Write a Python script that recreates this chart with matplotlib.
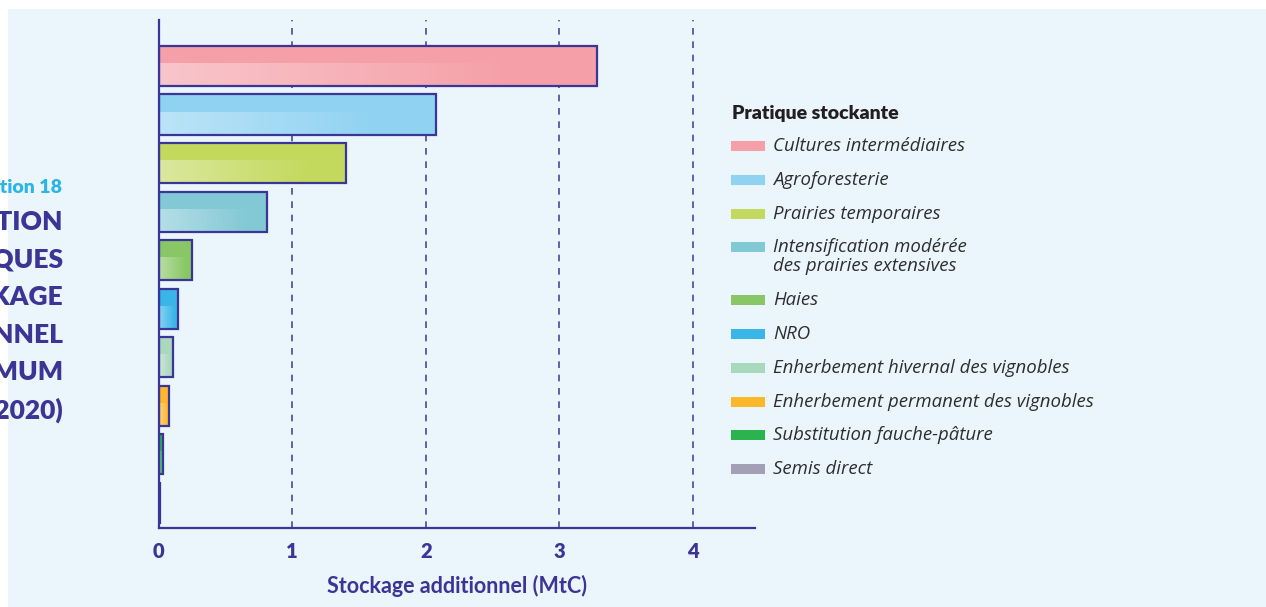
import matplotlib.pyplot as plt
import numpy as np
from matplotlib.colors import to_rgb
from matplotlib.patches import Rectangle

# Stockage additionnel par pratique (MtC)
pratiques = [
    "Cultures intermédiaires",
    "Agroforesterie",
    "Prairies temporaires",
    "Intensification modérée\ndes prairies extensives",
    "Haies",
    "NRO",
    "Enherbement hivernal des vignobles",
    "Enherbement permanent des vignobles",
    "Substitution fauche-pâture",
    "Semis direct",
]
stockage = [3.28, 2.08, 1.40, 0.81, 0.25, 0.145, 0.11, 0.075, 0.036, 0.012]
couleurs = ["#f5a0a8", "#8fd2f2", "#c3d95d", "#83c9d5", "#89c766",
            "#39b5e8", "#a9d8bd", "#fdb72b", "#2bb34d", "#a39fb5"]
xticks = [0, 1, 2, 3, 4]
titre = ["CONTRIBUTION", "DES PRATIQUES", "AU STOCKAGE", "ADDITIONNEL",
         "MAXIMUM", "(2020)"]

W, H = 1266, 607
BLEU = "#3b3595"
FOND = "#eaf5fc"
LEG_FONT = ['Open Sans', 'DejaVu Sans']

plt.rcParams['font.family'] = ['Lato', 'DejaVu Sans']

fig = plt.figure(figsize=(W / 100, H / 100), dpi=100)
fig.patch.set_facecolor("white")
# panneau de fond bleu clair
fig.add_artist(Rectangle((8 / W, 0), 1, 1 - 9 / H, transform=fig.transFigure,
                         facecolor=FOND, edgecolor="none", zorder=0))


def px(x, y):
    return x / W, 1 - y / H


ax = fig.add_axes([158.5 / W, 1 - 528 / H, (755 - 158.5) / W, (528 - 20) / H])
ax.set_facecolor("none")

pos = np.arange(len(stockage))
h = 0.83
bars = ax.barh(pos, stockage, height=h, color=couleurs, zorder=2)

# partie basse de chaque barre : dégradé clair -> couleur pleine
t = np.linspace(0, 1, 256)
mix = 0.6 + 0.4 * np.clip(t / 0.8, 0, 1)
for b, c, v, y in zip(bars, couleurs, stockage, pos):
    rgb = np.array(to_rgb(c))
    grad = (1 - mix[:, None]) * 1.0 + mix[:, None] * rgb
    img = ax.imshow(grad[None, :, :], extent=(0, v, y + h / 2, y - h / 2 + 0.45 * h),
                    aspect="auto", zorder=3)
    img.set_clip_path(b)

ax.barh(pos, stockage, height=h, facecolor="none", edgecolor=BLEU,
        linewidth=1.6, zorder=4)

ax.set_xlim(0, (755 - 158.5) / 133.6)
ax.set_ylim(len(stockage) - 0.48, -0.95)

for x in xticks[1:]:
    ax.axvline(x, color="#4a479e", lw=1.2, dashes=(4, 4), zorder=1)

for s in ["top", "right"]:
    ax.spines[s].set_visible(False)
for s in ["left", "bottom"]:
    ax.spines[s].set_color(BLEU)
    ax.spines[s].set_linewidth(1.6)
    ax.spines[s].set_zorder(5)

ax.set_yticks([])
ax.set_xticks(xticks)
ax.tick_params(axis="x", length=0, pad=10, labelsize=14.5, labelcolor=BLEU)
for lab in ax.get_xticklabels():
    lab.set_fontweight("heavy")
ax.set_xlabel("Stockage additionnel (MtC)", fontsize=15.5, fontweight="bold",
              color=BLEU, labelpad=10)

# légende
fig.text(*px(732, 113), "Pratique stockante", fontsize=14, fontweight="heavy",
         color="#231f20", va="center", ha="left")
y = 146
for nom, c in zip(pratiques, couleurs):
    fig.add_artist(Rectangle(px(731, y + 5), 34 / W, 10 / H,
                             transform=fig.transFigure, facecolor=c,
                             edgecolor="none"))
    for k, ligne in enumerate(nom.split("\n")):
        fig.text(*px(773, y + 19 * k), ligne, fontsize=13.4, style="italic",
                 family=LEG_FONT, color="#2e2e2e", va="center", ha="left")
    y += 33.8 + 19 * nom.count("\n")

# titre tronqué à gauche
fig.text(*px(62, 187), "Illustration 18", fontsize=14, fontweight="heavy",
         color="#2bb5e6", va="center", ha="right")
for k, ligne in enumerate(titre):
    fig.text(*px(63, 222 + 37.6 * k), ligne, fontsize=19, fontweight="heavy",
             color=BLEU, va="center", ha="right")

fig.savefig("out.png", dpi=100, facecolor=fig.get_facecolor())
